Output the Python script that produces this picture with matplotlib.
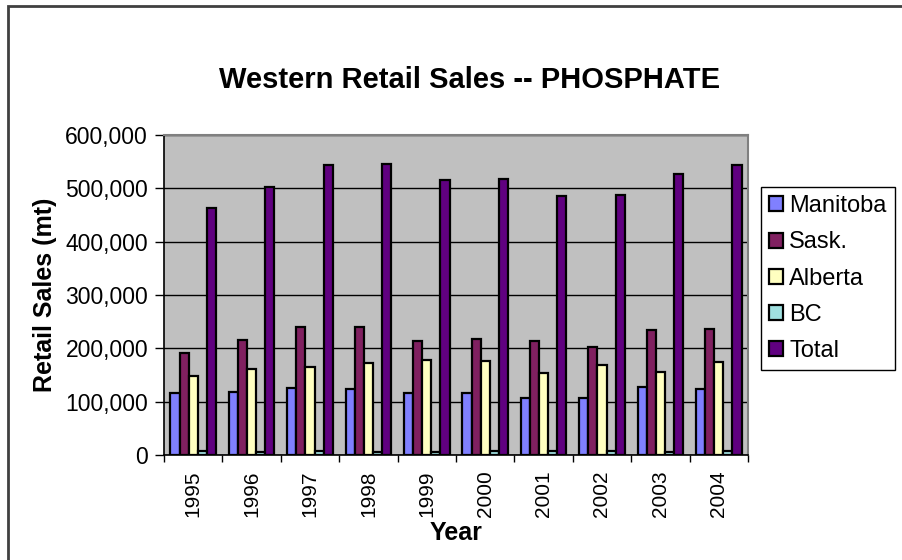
import numpy as np
import matplotlib
matplotlib.use('Agg')
import matplotlib.pyplot as plt
from matplotlib.patches import Rectangle
from matplotlib.ticker import FuncFormatter, MultipleLocator

plt.rcParams['font.family'] = ['Liberation Sans', 'DejaVu Sans']

years = ['1995', '1996', '1997', '1998', '1999', '2000', '2001', '2002', '2003', '2004']
manitoba = [117000, 118000, 125600, 123700, 117000, 115600, 106200, 106200, 128100, 123100]
sask = [190600, 215600, 240000, 240000, 213700, 216900, 214400, 203100, 235000, 236200]
alberta = [148000, 160600, 165600, 171900, 178700, 176200, 154400, 168700, 155000, 173700]
bc = [7500, 6000, 8000, 6000, 5600, 7500, 8000, 8000, 6000, 7500]
total = [464000, 503000, 543000, 546000, 516000, 518000, 485600, 488100, 526900, 543700]

series = [('Manitoba', manitoba, '#8080FF'),
          ('Sask.', sask, '#802060'),
          ('Alberta', alberta, '#FFFFC0'),
          ('BC', bc, '#A0E0E0'),
          ('Total', total, '#600080')]

fig = plt.figure(figsize=(9.03, 5.6), dpi=100)
ax = fig.add_axes([164/903, 1-455/560, (748-164)/903, (455-135)/560])
ax.set_facecolor('#C0C0C0')

x = np.arange(len(years))
w = 0.156
for i, (name, vals, col) in enumerate(series):
    ax.bar(x + (i - 2) * w, vals, w, color=col, edgecolor='black', linewidth=1.6,
           label=name, zorder=3)

ax.set_xlim(-0.5, len(years) - 0.5)
ax.set_ylim(0, 600000)
ax.yaxis.set_major_locator(MultipleLocator(100000))
ax.yaxis.set_major_formatter(FuncFormatter(lambda v, p: '{:,.0f}'.format(v)))
ax.grid(axis='y', color='black', linewidth=1, zorder=1)

ax.set_xticks(x)
ax.set_xticklabels(years, rotation=90, fontsize=15)
ax.tick_params(axis='x', length=0, pad=11)
ax.set_xticks(np.arange(len(years) + 1) - 0.5, minor=True)
ax.tick_params(axis='x', which='minor', length=5, direction='out', width=1)
ax.tick_params(axis='y', labelsize=16.5, length=6.5, direction='out', width=1, pad=5)

for s in ['top', 'right']:
    ax.spines[s].set_color('#808080')
    ax.spines[s].set_linewidth(1.5)
for s in ['left', 'bottom']:
    ax.spines[s].set_color('black')
    ax.spines[s].set_linewidth(1.2)

ax.set_ylabel('Retail Sales (mt)', fontsize=18, fontweight='bold', labelpad=6)
ax.set_xlabel('Year', fontsize=18, fontweight='bold', labelpad=3)
fig.text(470/903, 1-80/560, 'Western Retail Sales -- PHOSPHATE', fontsize=21,
         fontweight='bold', ha='center', va='center')

leg = fig.legend(loc='upper left', bbox_to_anchor=(761/903, 1-187/560), fontsize=17,
                 frameon=True, fancybox=False, edgecolor='black', framealpha=1,
                 handlelength=0.6, handleheight=0.6, handletextpad=0.25,
                 labelspacing=0.6, borderpad=0.35, borderaxespad=0)
leg.get_frame().set_linewidth(1)

fig.patches.append(Rectangle((8/903, -1), 3, 2 - 6/560, transform=fig.transFigure,
                             fill=False, edgecolor='#404040', linewidth=2))

fig.savefig('out.png', dpi=100)
